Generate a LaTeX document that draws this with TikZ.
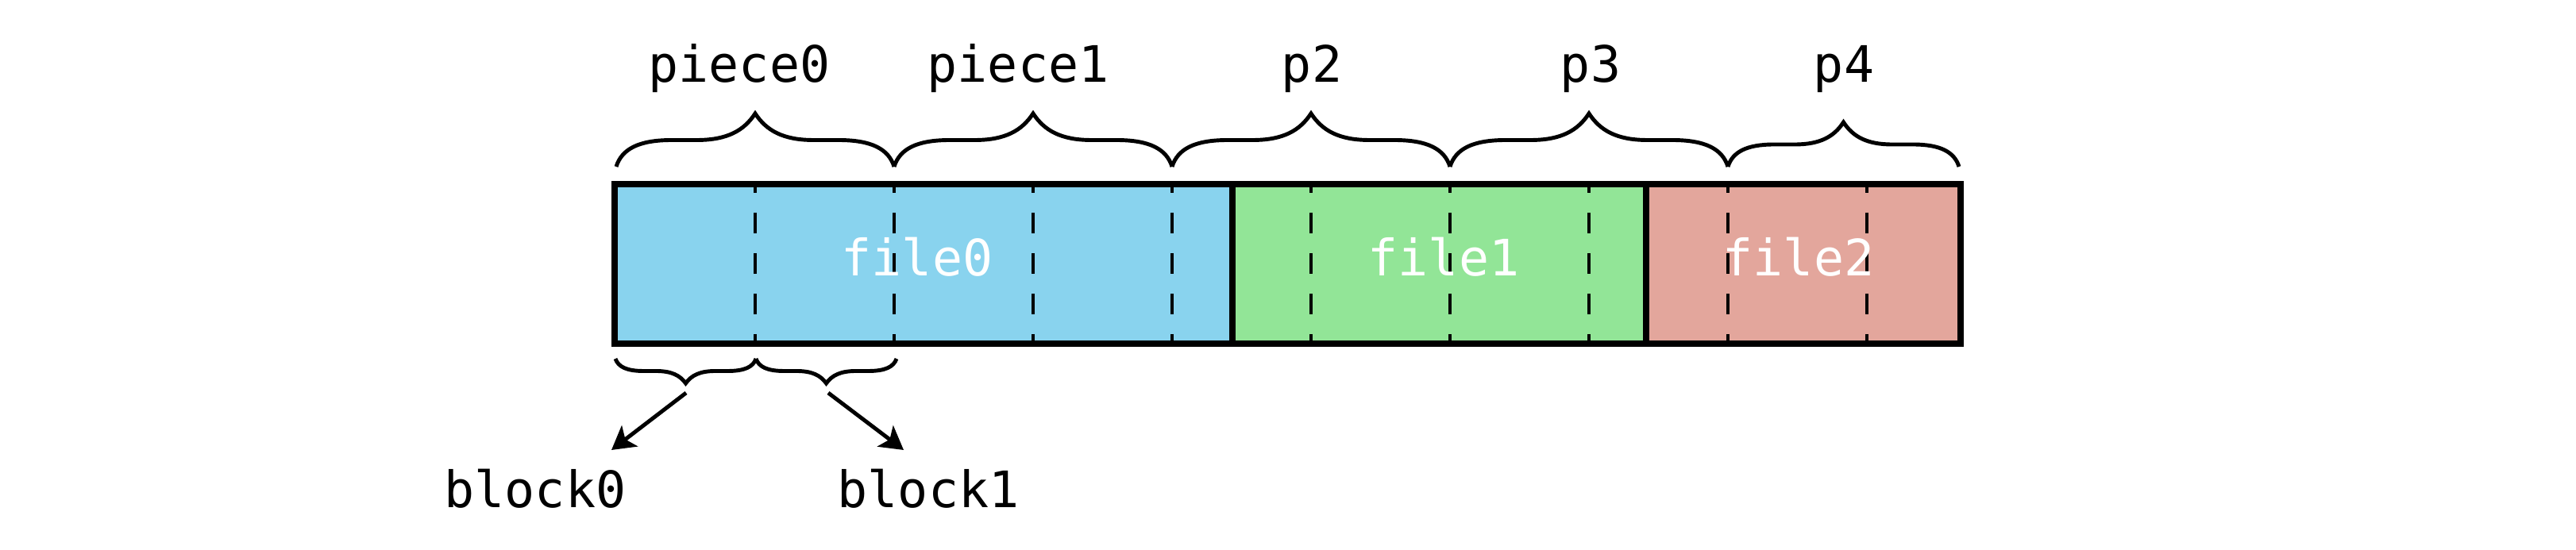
\documentclass[tikz,border=0pt]{standalone}
\usepackage{fontspec}
\setmonofont{DejaVu Sans Mono}
\usetikzlibrary{arrows.meta,positioning}

\definecolor{fileblue}{RGB}{137,211,238}
\definecolor{filegreen}{RGB}{146,229,151}
\definecolor{filered}{RGB}{227,166,156}

% unit curly brace from (0,0) to (1,0), tip at (0.5,1)
\tikzset{
  pics/curly/.style={code={
    \draw[line width=1.4pt]
      (0,0) .. controls (0.02,0.33) and (0.08,0.5) .. (0.2,0.5)
      -- (0.29,0.5) .. controls (0.40,0.5) and (0.46,0.68) .. (0.5,1)
      .. controls (0.54,0.68) and (0.60,0.5) .. (0.71,0.5)
      -- (0.8,0.5) .. controls (0.92,0.5) and (0.98,0.33) .. (1,0);
  }}
}

\begin{document}
\begin{tikzpicture}[
    every node/.style={font=\ttfamily\fontsize{18}{22}\selectfont,inner sep=0pt},
    lbl/.style={anchor=base},
    filelbl/.style={anchor=base,text=white},
    border/.style={line width=2.2pt},
    blockline/.style={line width=1.2pt,dash pattern=on 0.26cm off 0.25cm,dash phase=0.15cm},
    pointer/.style={-{Stealth[length=0.29cm,width=0.33cm,inset=0.07cm]},line width=1.4pt}]

\useasboundingbox (0,0) rectangle (32.44,6.93);

% files
\fill[fileblue]  (7.74,2.60) rectangle (15.52,4.61);
\fill[filegreen] (15.52,2.60) rectangle (20.73,4.61);
\fill[filered]   (20.73,2.60) rectangle (24.69,4.61);

% block boundaries
\draw[blockline] (9.51,4.61) -- (9.51,2.60);
\draw[blockline] (11.26,4.61) -- (11.26,2.60);
\draw[blockline] (13.01,4.61) -- (13.01,2.60);
\draw[blockline] (14.76,4.61) -- (14.76,2.60);
\draw[blockline] (16.51,4.61) -- (16.51,2.60);
\draw[blockline] (18.26,4.61) -- (18.26,2.60);
\draw[blockline] (20.01,4.61) -- (20.01,2.60);
\draw[blockline] (21.76,4.61) -- (21.76,2.60);
\draw[blockline] (23.51,4.61) -- (23.51,2.60);

\draw[border] (7.74,2.60) rectangle (24.69,4.61);
\draw[border] (15.52,2.60) -- (15.52,4.61);
\draw[border] (20.73,2.60) -- (20.73,4.61);

\node[filelbl] (file0) at (11.55,3.45) {file0};
\node[filelbl] (file1) at (18.18,3.45) {file1};
\node[filelbl] (file2) at (22.65,3.45) {file2};

% pieces
\pic[xscale=3.50,yscale=0.67] at (7.76,4.83) {curly};
\pic[xscale=3.50,yscale=0.67] at (11.26,4.83) {curly};
\pic[xscale=3.50,yscale=0.67] at (14.76,4.83) {curly};
\pic[xscale=3.50,yscale=0.67] at (18.26,4.83) {curly};
\pic[xscale=2.91,yscale=0.56] at (21.76,4.83) {curly};

\node[lbl] (piece0) at (9.31,5.89) {piece0};
\node[lbl] (piece1) at (12.82,5.89) {piece1};
\node[lbl] (p2) at (16.52,5.89) {p2};
\node[lbl] (p3) at (20.03,5.89) {p3};
\node[lbl] (p4) at (23.22,5.89) {p4};

% blocks
\pic[xscale=1.77,yscale=-0.31] at (7.75,2.41) {curly};
\pic[xscale=1.77,yscale=-0.31] at (9.52,2.41) {curly};

\node[lbl] (block0) at (6.74,0.53) {block0};
\node[lbl] (block1) at (11.69,0.53) {block1};

\coordinate (tip0) at (8.64,1.98);
\coordinate (tip1) at (10.43,1.98);
\coordinate (end0) at (7.70,1.26);
\coordinate (end1) at (11.38,1.26);

\draw[pointer] (tip0) -- (end0);
\draw[pointer] (tip1) -- (end1);

\end{tikzpicture}
\end{document}
